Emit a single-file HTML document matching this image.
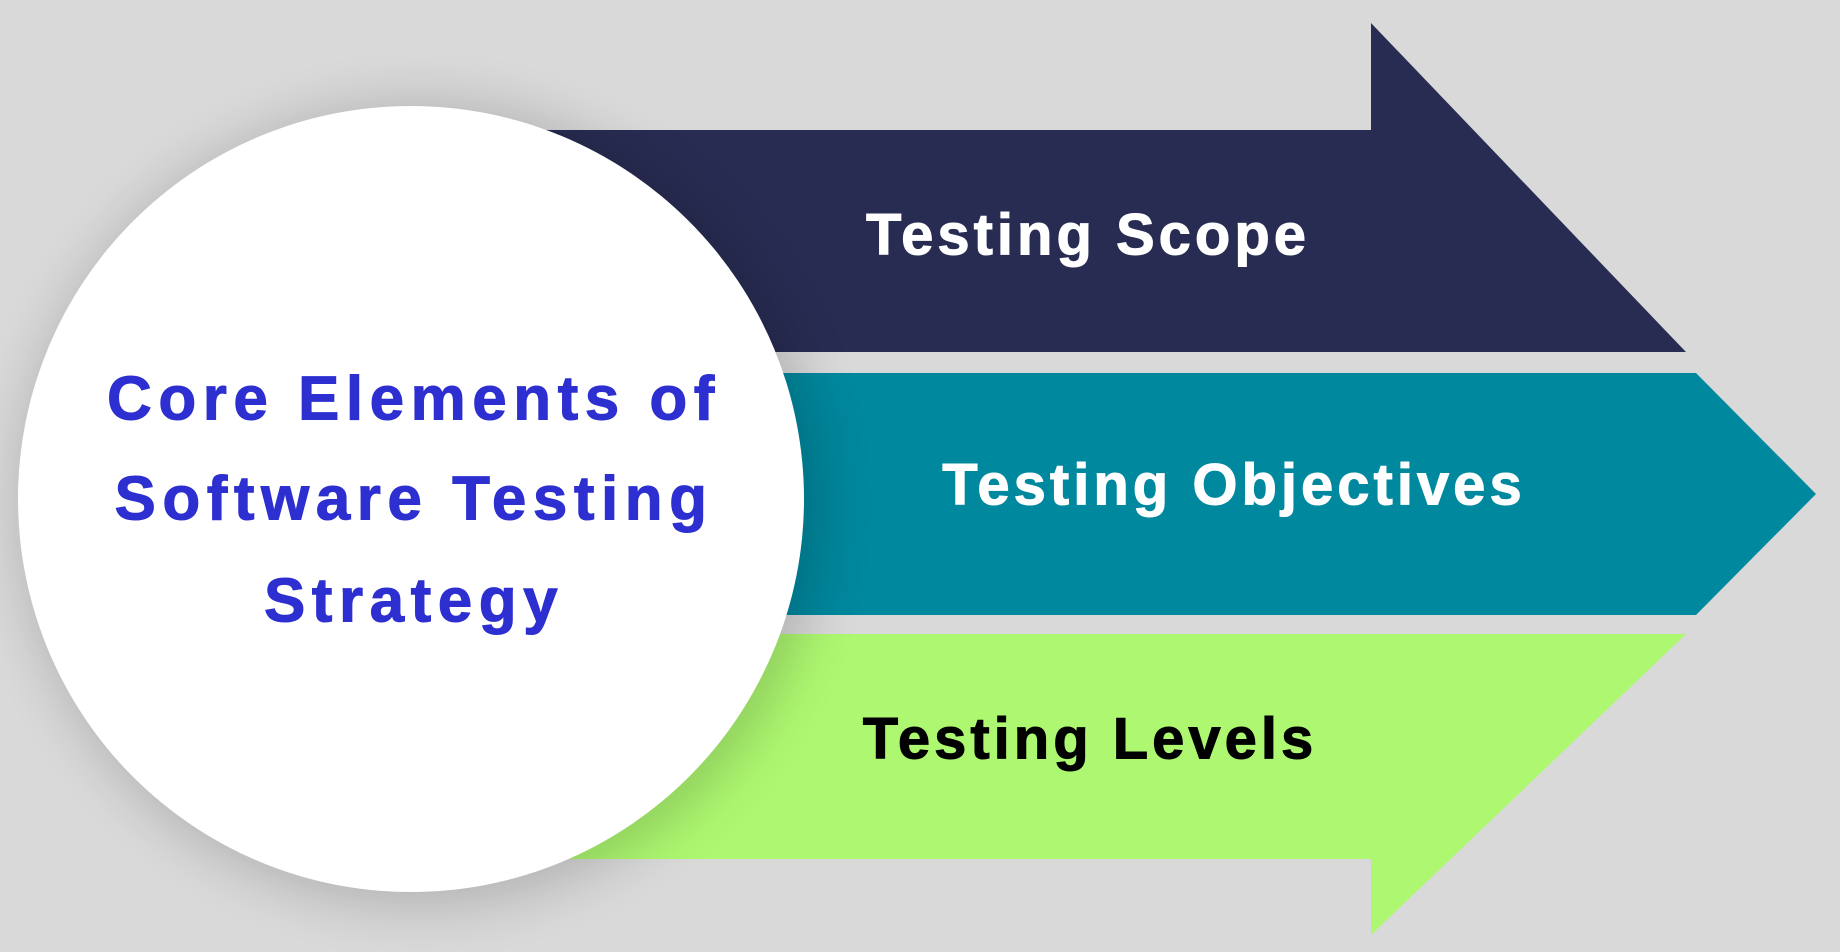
<!DOCTYPE html>
<html><head><meta charset="utf-8"><style>
html,body{margin:0;padding:0;background:#d9d9d9;}
body{width:1840px;height:952px;position:relative;overflow:hidden;font-family:"Liberation Sans",sans-serif;}
svg{position:absolute;left:0;top:0;}
.t{position:absolute;font-weight:bold;white-space:nowrap;transform:translate(-50%,-50%);-webkit-text-stroke:1px currentColor;}
</style></head><body>
<svg width="1840" height="952" viewBox="0 0 1840 952">
<defs>
<filter id="sh" x="-30%" y="-30%" width="160%" height="160%"><feGaussianBlur stdDeviation="28"/></filter>
</defs>
<polygon points="540,130 1371,130 1371,23 1686,352 540,352" fill="#282c52"/>
<polygon points="540,373 1696,373 1816,494 1696,615 540,615" fill="#00889e"/>
<polygon points="540,634 1686,634 1371,935 1371,859 540,859" fill="#adf870"/>
<circle cx="420" cy="505" r="400" fill="#000" opacity="0.18" filter="url(#sh)"/>
<circle cx="411" cy="499" r="393" fill="#ffffff"/>
</svg>
<div class="t" style="left:1088px;top:235px;font-size:58px;letter-spacing:4px;color:#fff;">Testing Scope</div>
<div class="t" style="left:1234px;top:485px;font-size:58px;letter-spacing:4px;color:#fff;">Testing Objectives</div>
<div class="t" style="left:1090px;top:739px;font-size:58px;letter-spacing:4px;color:#000;">Testing Levels</div>
<div class="t" style="left:414px;top:399px;font-size:62px;letter-spacing:6.5px;color:#2d2fd0;">Core Elements of</div>
<div class="t" style="left:414px;top:499px;font-size:62px;letter-spacing:6.5px;color:#2d2fd0;">Software Testing</div>
<div class="t" style="left:414px;top:601px;font-size:62px;letter-spacing:6.5px;color:#2d2fd0;">Strategy</div>
</body></html>
